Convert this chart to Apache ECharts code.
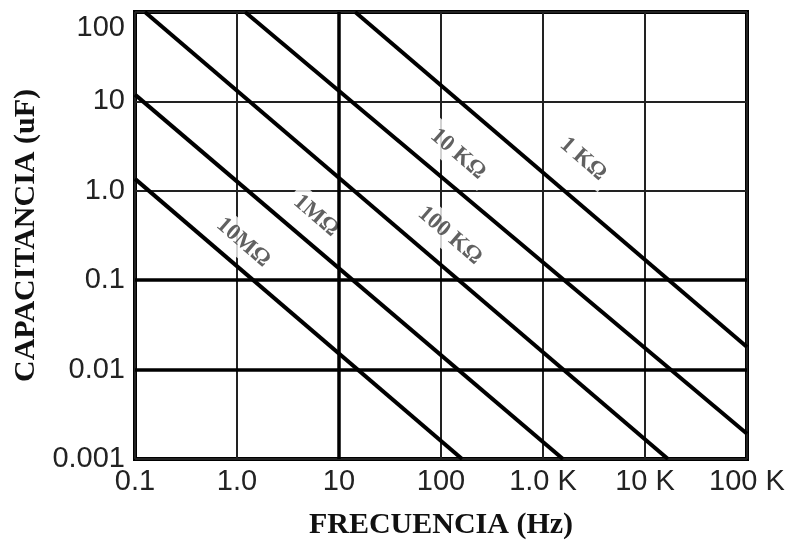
<!DOCTYPE html>
<html>
<head>
<meta charset="utf-8">
<script src="https://cdn.jsdelivr.net/npm/echarts@6/dist/echarts.min.js"></script>
<style>
  html, body { margin: 0; padding: 0; background: #fff; }
  #chart { width: 794px; height: 545px; }
</style>
</head>
<body>
<div id="chart"></div>
<script>
// Decade tick labels for frequency (Hz), 0.1 Hz .. 100 kHz
const freqTickLabels = ['0.1', '1.0', '10', '100', '1.0 K', '10 K', '100 K'];
// Decade tick labels for capacitance (uF), 0.001 uF .. 100 uF
const capTickLabels = ['0.001', '0.01', '0.1', '1.0', '10', '100'];
const freqMin = 0.1, freqMax = 100000;
const capMin = 0.001, capMax = 100;

// Resistance curves, each given by its end points [frequency Hz, capacitance uF]
const curveNames = ['1 KΩ', '10 KΩ', '100 KΩ', '1MΩ', '10MΩ'];
const curve1K   = [[14.4, 100], [100000, 0.0179]];
const curve10K  = [[1.2, 100], [100000, 0.00192]];
const curve100K = [[0.125, 100], [16800, 0.001]];
const curve1M   = [[0.1, 11.9], [1570, 0.001]];
const curve10M  = [[0.1, 1.36], [161, 0.001]];
const curves = [curve1K, curve10K, curve100K, curve1M, curve10M];

// Anchor of each curve's name [frequency Hz, capacitance uF]
const labelAt = [[2470, 2.27], [147, 2.58], [122, 0.316], [5.95, 0.527], [1.15, 0.264]];

// Grid rules drawn heavier than the rest
const heavyCapLines = [0.1, 0.01];
const heavyFreqLines = [10];

const tickFont = { fontFamily: 'Liberation Sans', fontSize: 29, color: '#222' };
const nameFont = { fontFamily: 'Liberation Serif', fontSize: 30, fontWeight: 'bold', color: '#111' };

const chart = echarts.init(document.getElementById('chart'), null, { renderer: 'canvas' });

const series = curves.map((pts, i) => ({
  name: curveNames[i],
  type: 'line',
  data: pts,
  symbol: 'none',
  z: 4,
  lineStyle: { color: '#000', width: 4 },
  silent: true,
  animation: false
}));

// heavier grid rules
series.push({
  type: 'line',
  data: [],
  z: 1,
  silent: true,
  animation: false,
  markLine: {
    silent: true,
    symbol: 'none',
    label: { show: false },
    lineStyle: { color: '#000', width: 3.5, type: 'solid' },
    data: heavyCapLines.map(v => ({ yAxis: v })).concat(heavyFreqLines.map(v => ({ xAxis: v })))
  }
});

// curve names on white patches (above the grid, below the curves)
series.push({
  type: 'scatter',
  z: 2,
  symbolSize: 0,
  silent: true,
  animation: false,
  data: labelAt.map((p, i) => ({ name: curveNames[i], value: p })),
  label: {
    show: true,
    position: 'inside',
    formatter: p => p.name,
    rotate: -41,
    fontFamily: 'Liberation Serif',
    fontWeight: 'bold',
    fontSize: 23,
    color: '#3a3a3a',
    backgroundColor: '#fff',
    padding: [4, 6]
  }
});

chart.setOption({
  animation: false,
  backgroundColor: '#fff',
  grid: {
    left: 135, right: 47, top: 12, bottom: 85,
    show: true, borderColor: '#000', borderWidth: 4, backgroundColor: 'transparent'
  },
  xAxis: {
    type: 'log', logBase: 10, min: freqMin, max: freqMax, interval: 1, splitNumber: 6,
    name: 'FRECUENCIA (Hz)', nameLocation: 'middle', nameGap: 51,
    nameTextStyle: nameFont,
    axisLine: { show: false }, axisTick: { show: false },
    splitLine: { show: true, lineStyle: { color: '#222', width: 2 } },
    minorSplitLine: { show: false },
    axisLabel: Object.assign({
      margin: 8,
      formatter: v => freqTickLabels[Math.round(Math.log10(v)) + 1]
    }, tickFont)
  },
  yAxis: {
    type: 'log', logBase: 10, min: capMin, max: capMax, interval: 1, splitNumber: 5,
    name: 'CAPACITANCIA (uF)', nameLocation: 'middle', nameGap: 92,
    nameTextStyle: nameFont,
    axisLine: { show: false }, axisTick: { show: false },
    splitLine: { show: true, lineStyle: { color: '#222', width: 2 } },
    axisLabel: Object.assign({
      margin: 10,
      formatter: v => {
        const k = Math.round(Math.log10(v)) + 3;
        const s = capTickLabels[k];
        return k === capTickLabels.length - 1 ? '{top|' + s + '}' : s;
      },
      rich: { top: Object.assign({ padding: [32, 0, 0, 0] }, tickFont) }
    }, tickFont)
  },
  series: series
});
</script>
</body>
</html>
